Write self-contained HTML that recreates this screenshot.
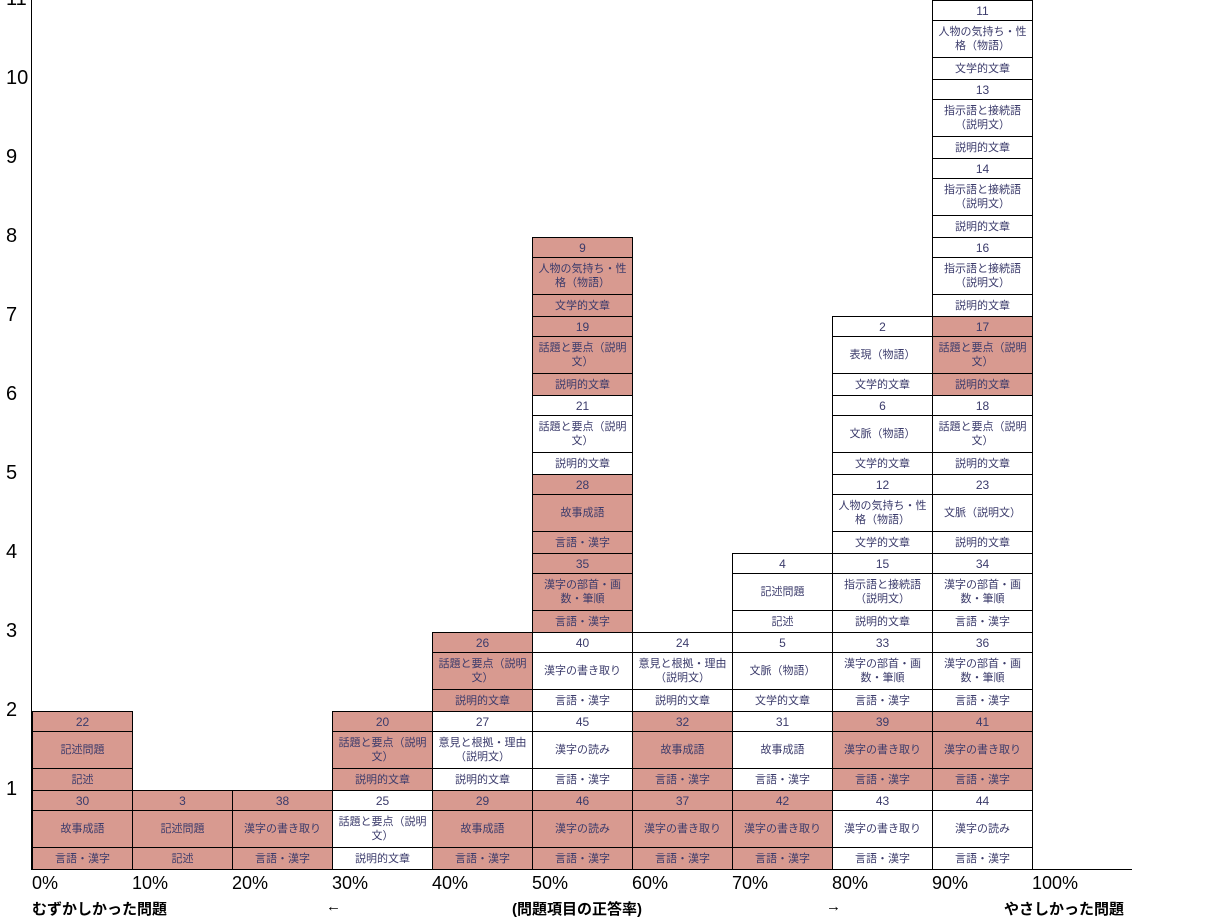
<!DOCTYPE html>
<html><head><meta charset="utf-8">
<style>
body{margin:0;width:1210px;height:912px;overflow:hidden;background:#fff;font-family:"Liberation Sans","Noto Sans CJK JP",sans-serif;position:relative}
.blk{position:absolute;box-sizing:border-box;width:101px;height:80px;border:1px solid #000;display:flex;flex-direction:column;color:#3b3b6b;font-size:11px;text-align:center}
.blk.p{background:#d89a90}
.r{display:flex;align-items:center;justify-content:center;line-height:14px;box-sizing:border-box}
.r1{height:20px;font-size:12px;border-bottom:1px solid #000}
.r2{height:37px;border-bottom:1px solid #000;padding:0 1px}
.r3{flex:1}
.yl{position:absolute;left:6px;font-size:20px;color:#000}
.xl{position:absolute;top:873px;font-size:18px;color:#000}
.bt{position:absolute;top:898px;font-size:15px;font-weight:bold;color:#000}
</style></head><body>
<div style="position:absolute;left:31px;top:0;width:1px;height:870px;background:#000"></div>
<div style="position:absolute;left:31px;top:869px;width:1101px;height:1px;background:#000"></div>
<div id="chart"></div>
<div class="bt" style="left:32px">むずかしかった問題</div>
<div class="bt" style="left:326px;font-weight:normal">←</div>
<div class="bt" style="left:512px">(問題項目の正答率)</div>
<div class="bt" style="left:826px;font-weight:normal">→</div>
<div class="bt" style="left:1004px">やさしかった問題</div>
<script>
const xTicks=["0%","10%","20%","30%","40%","50%","60%","70%","80%","90%","100%"];
const yTicks=[1,2,3,4,5,6,7,8,9,10,11];
const bins=[0,1,2,3,4,5,6,7,8,9];
const K="言語・漢字",S="説明的文章",B="文学的文章",W="記述";
const stacks=[
[[30,"故事成語",K,1],[22,"記述問題",W,1]],
[[3,"記述問題",W,1]],
[[38,"漢字の書き取り",K,1]],
[[25,"話題と要点（説明文）",S,0],[20,"話題と要点（説明文）",S,1]],
[[29,"故事成語",K,1],[27,"意見と根拠・理由（説明文）",S,0],[26,"話題と要点（説明文）",S,1]],
[[46,"漢字の読み",K,1],[45,"漢字の読み",K,0],[40,"漢字の書き取り",K,0],[35,"漢字の部首・画数・筆順",K,1],[28,"故事成語",K,1],[21,"話題と要点（説明文）",S,0],[19,"話題と要点（説明文）",S,1],[9,"人物の気持ち・性格（物語）",B,1]],
[[37,"漢字の書き取り",K,1],[32,"故事成語",K,1],[24,"意見と根拠・理由（説明文）",S,0]],
[[42,"漢字の書き取り",K,1],[31,"故事成語",K,0],[5,"文脈（物語）",B,0],[4,"記述問題",W,0]],
[[43,"漢字の書き取り",K,0],[39,"漢字の書き取り",K,1],[33,"漢字の部首・画数・筆順",K,0],[15,"指示語と接続語（説明文）",S,0],[12,"人物の気持ち・性格（物語）",B,0],[6,"文脈（物語）",B,0],[2,"表現（物語）",B,0]],
[[44,"漢字の読み",K,0],[41,"漢字の書き取り",K,1],[36,"漢字の部首・画数・筆順",K,0],[34,"漢字の部首・画数・筆順",K,0],[23,"文脈（説明文）",S,0],[18,"話題と要点（説明文）",S,0],[17,"話題と要点（説明文）",S,1],[16,"指示語と接続語（説明文）",S,0],[14,"指示語と接続語（説明文）",S,0],[13,"指示語と接続語（説明文）",S,0],[11,"人物の気持ち・性格（物語）",B,0]]
];
const X0=32,BW=100,Y0=869,U=79;
const xs=i=>X0+i*BW, ys=v=>Y0-v*U;
const chart=document.getElementById('chart');
yTicks.forEach(v=>{const d=document.createElement('div');d.className='yl';d.textContent=v;d.style.top=(ys(v)-12)+'px';


document.body.appendChild(d);});
xTicks.forEach((t,i)=>{const d=document.createElement('div');d.className='xl';d.textContent=t;d.style.left=xs(i)+'px';


document.body.appendChild(d);});
stacks.forEach((st,c)=>{st.forEach((it,k)=>{
const b=document.createElement('div');b.className='blk'+(it[3]?' p':'');
b.style.left=xs(bins[c])+'px';b.style.top=ys(k+1)+'px';


b.innerHTML='<div class="r r1">'+it[0]+'</div><div class="r r2">'+it[1]+'</div><div class="r r3">'+it[2]+'</div>';
chart.appendChild(b);});});
</script>
</body></html>
